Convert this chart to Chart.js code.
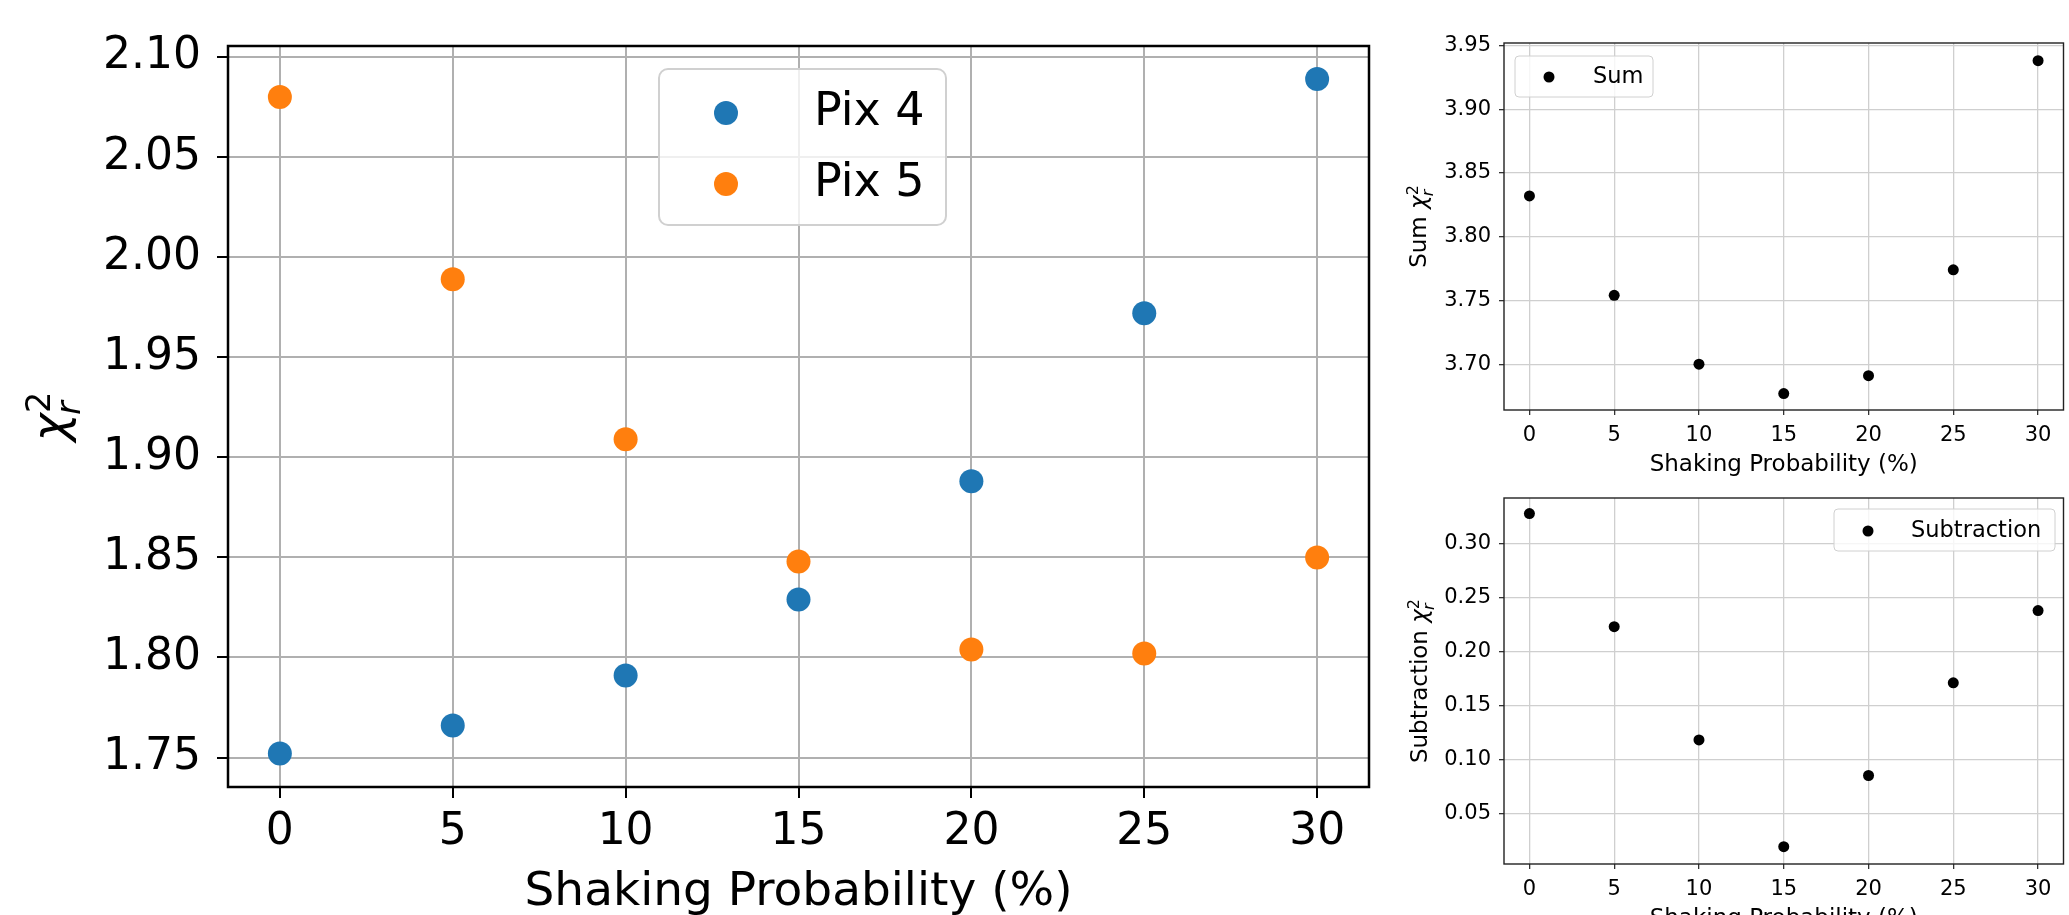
<!DOCTYPE html>
<html>
<head>
<meta charset="utf-8">
<script src="https://cdn.jsdelivr.net/npm/chart.js@4.4.1/dist/chart.umd.min.js"></script>
<style>
  html, body { margin: 0; padding: 0; background: #fff; overflow: hidden; }
  #wrap { position: relative; width: 2069px; height: 915px; overflow: hidden; }
  canvas { position: absolute; }
</style>
</head>
<body>
<div id="wrap">
  <canvas id="chartMain" width="1400" height="930" style="left:0;top:0"></canvas>
  <canvas id="chartSum" width="689" height="480" style="left:1380px;top:0"></canvas>
  <canvas id="chartSub" width="689" height="494" style="left:1380px;top:440px"></canvas>
</div>
<script>
// datos
const probs = [0, 5, 10, 15, 20, 25, 30];
const pix4 = [1.752, 1.766, 1.791, 1.829, 1.888, 1.972, 2.089];
const pix5 = [2.080, 1.989, 1.909, 1.848, 1.804, 1.802, 1.850];
const sumChi = [3.832, 3.754, 3.700, 3.677, 3.691, 3.774, 3.938];
const subChi = [0.328, 0.223, 0.118, 0.019, 0.085, 0.171, 0.238];

const xTicks = [0, 5, 10, 15, 20, 25, 30];
const mainYTicks = [1.75, 1.80, 1.85, 1.90, 1.95, 2.00, 2.05, 2.10];
const sumYTicks = [3.70, 3.75, 3.80, 3.85, 3.90, 3.95];
const subYTicks = [0.05, 0.10, 0.15, 0.20, 0.25, 0.30];

const xTitle = "Shaking Probability (%)";
const FAM = "'DejaVu Sans'";

function puntos(xs, ys) {
  const out = [];
  for (let i = 0; i < xs.length; i++) out.push({ x: xs[i], y: ys[i] });
  return out;
}

// marco completo (los 4 ejes)
const marcoPlugin = {
  id: "marco",
  afterDatasetsDraw(chart, args, o) {
    const a = chart.chartArea;
    const ctx = chart.ctx;
    ctx.save();
    ctx.strokeStyle = o.color;
    ctx.lineWidth = o.width;
    ctx.strokeRect(a.left, a.top, a.right - a.left, a.bottom - a.top);
    ctx.restore();
  }
};

// leyenda dentro del area, estilo matplotlib
const leyendaPlugin = {
  id: "leyenda",
  afterDraw(chart, args, o) {
    const ctx = chart.ctx;
    ctx.save();
    ctx.beginPath();
    ctx.roundRect(o.x, o.y, o.w, o.h, o.r);
    ctx.fillStyle = "rgba(255,255,255,0.8)";
    ctx.fill();
    ctx.strokeStyle = "#d0d0d0";
    ctx.lineWidth = o.lw;
    ctx.stroke();
    chart.data.datasets.forEach(function (ds, i) {
      const y = o.rowY + i * o.rowGap;
      ctx.beginPath();
      ctx.arc(o.markX, y, o.markR, 0, Math.PI * 2);
      ctx.fillStyle = ds.backgroundColor;
      ctx.fill();
      ctx.fillStyle = "#000";
      ctx.font = o.size + "px " + FAM;
      ctx.textBaseline = "middle";
      ctx.textAlign = "left";
      ctx.fillText(ds.label, o.textX, y);
    });
    ctx.restore();
  }
};

// titulo del eje y con chi^2_r
const tituloYPlugin = {
  id: "tituloY",
  afterDraw(chart, args, o) {
    const a = chart.chartArea;
    const ctx = chart.ctx;
    const fPre = o.size + "px " + FAM;
    const fChi = "italic " + o.size + "px " + FAM;
    const fScr = (o.size * 0.7) + "px " + FAM;
    const fScrI = "italic " + (o.size * 0.7) + "px " + FAM;
    ctx.save();
    ctx.font = fPre;
    const wPre = o.prefix ? ctx.measureText(o.prefix).width : 0;
    ctx.font = fChi;
    const wChi = ctx.measureText("χ").width;
    ctx.font = fScr;
    const w2 = ctx.measureText("2").width;
    ctx.font = fScrI;
    const wr = ctx.measureText("r").width;
    const total = wPre + wChi + Math.max(w2, wr);
    ctx.translate(o.x, (a.top + a.bottom) / 2);
    ctx.rotate(-Math.PI / 2);
    ctx.textBaseline = "alphabetic";
    ctx.textAlign = "left";
    ctx.fillStyle = "#000";
    let x = -total / 2;
    if (o.prefix) {
      ctx.font = fPre;
      ctx.fillText(o.prefix, x, 0);
      x += wPre;
    }
    ctx.font = fChi;
    ctx.fillText("χ", x, 0);
    x += wChi;
    ctx.font = fScr;
    ctx.fillText("2", x, -o.size * 0.33);
    ctx.font = fScrI;
    ctx.fillText("r", x - o.size * 0.04, o.size * 0.29);
    ctx.restore();
  }
};

function escala(eje, min, max, ticks, st, fmt) {
  const s = {
    type: "linear",
    min: min,
    max: max,
    afterBuildTicks: function (sc) { sc.ticks = ticks.map(function (v) { return { value: v }; }); },
    grid: {
      color: st.grid,
      lineWidth: st.gridW,
      drawTicks: true,
      tickLength: st.tickLen,
      tickColor: st.tickColor,
      tickWidth: st.tickW
    },
    border: { display: false },
    ticks: {
      font: { family: "DejaVu Sans", size: st.tickSize },
      color: "#000",
      padding: eje === "x" ? st.padX : st.padY,
      maxRotation: 0,
      autoSkip: false,
      callback: fmt
    }
  };
  if (eje === "x") {
    s.afterFit = function (sc) { sc.height = st.xh; };
    s.title = {
      display: true,
      text: xTitle,
      color: "#000",
      font: { family: "DejaVu Sans", size: st.titleSize },
      padding: { top: 0, bottom: st.titlePad }
    };
  } else {
    s.afterFit = function (sc) { sc.width = st.yw; };
  }
  return s;
}

function pintarDispersion(id, datasets, cfg) {
  const ctx = document.getElementById(id).getContext("2d");
  const st = cfg.st;
  return new Chart(ctx, {
    type: "scatter",
    data: { datasets: datasets },
    plugins: [marcoPlugin, leyendaPlugin, tituloYPlugin],
    options: {
      responsive: false,
      animation: false,
      layout: { padding: cfg.pad },
      plugins: {
        legend: { display: false },
        tooltip: { enabled: false },
        marco: cfg.marco,
        leyenda: cfg.leyenda,
        tituloY: cfg.tituloY
      },
      scales: {
        x: escala("x", -1.5, 31.5, xTicks, st, function (v) { return String(v); }),
        y: escala("y", cfg.ymin, cfg.ymax, cfg.yTicks, st, function (v) { return Number(v).toFixed(2); })
      }
    }
  });
}

const estiloGrande = {
  grid: "#b0b0b0", gridW: 2, tickLen: 11, tickColor: "#000", tickW: 2,
  tickSize: 44, padX: 8, padY: 16, titleSize: 47, titlePad: 9, xh: 143, yw: 228
};
const estiloChico = {
  grid: "#cfcfcf", gridW: 1.3, tickLen: 5, tickColor: "#333", tickW: 1.3,
  tickSize: 21, padX: 8, padY: 8, titleSize: 23, titlePad: 1, xh: 70, yw: 124
};

pintarDispersion("chartMain", [
  { label: "Pix 4", data: puntos(probs, pix4), backgroundColor: "#1f77b4", pointRadius: 12, pointHoverRadius: 12, borderWidth: 0 },
  { label: "Pix 5", data: puntos(probs, pix5), backgroundColor: "#ff7f0e", pointRadius: 12, pointHoverRadius: 12, borderWidth: 0 }
], {
  st: estiloGrande,
  pad: { top: 46, right: 31, bottom: 0, left: 0 },
  ymin: 1.7353, ymax: 2.1055, yTicks: mainYTicks,
  marco: { color: "#000", width: 2.5 },
  leyenda: { x: 659, y: 69, w: 287, h: 156, r: 9, lw: 2, markX: 726, markR: 12, rowY: 113, rowGap: 71, textX: 814, size: 46 },
  tituloY: { x: 66, size: 48, prefix: "" }
});

pintarDispersion("chartSum", [
  { label: "Sum", data: puntos(probs, sumChi), backgroundColor: "#000", pointRadius: 5.5, pointHoverRadius: 5.5, borderWidth: 0 }
], {
  st: estiloChico,
  pad: { top: 43, right: 2, bottom: 0, left: 0 },
  ymin: 3.6641, ymax: 3.9519, yTicks: sumYTicks,
  marco: { color: "#222", width: 1.4 },
  leyenda: { x: 135, y: 56, w: 138, h: 41, r: 4, lw: 1, markX: 169, markR: 5.5, rowY: 77, rowGap: 0, textX: 213, size: 22.5 },
  tituloY: { x: 46, size: 23, prefix: "Sum " }
});

pintarDispersion("chartSub", [
  { label: "Subtraction", data: puntos(probs, subChi), backgroundColor: "#000", pointRadius: 5.5, pointHoverRadius: 5.5, borderWidth: 0 }
], {
  st: estiloChico,
  pad: { top: 58, right: 2, bottom: 0, left: 0 },
  ymin: 0.0029, ymax: 0.3424, yTicks: subYTicks,
  marco: { color: "#222", width: 1.4 },
  leyenda: { x: 454, y: 69, w: 221, h: 42, r: 4, lw: 1, markX: 488, markR: 5.5, rowY: 91, rowGap: 0, textX: 531, size: 22.5 },
  tituloY: { x: 47, size: 23, prefix: "Subtraction " }
});
</script>
</body>
</html>
